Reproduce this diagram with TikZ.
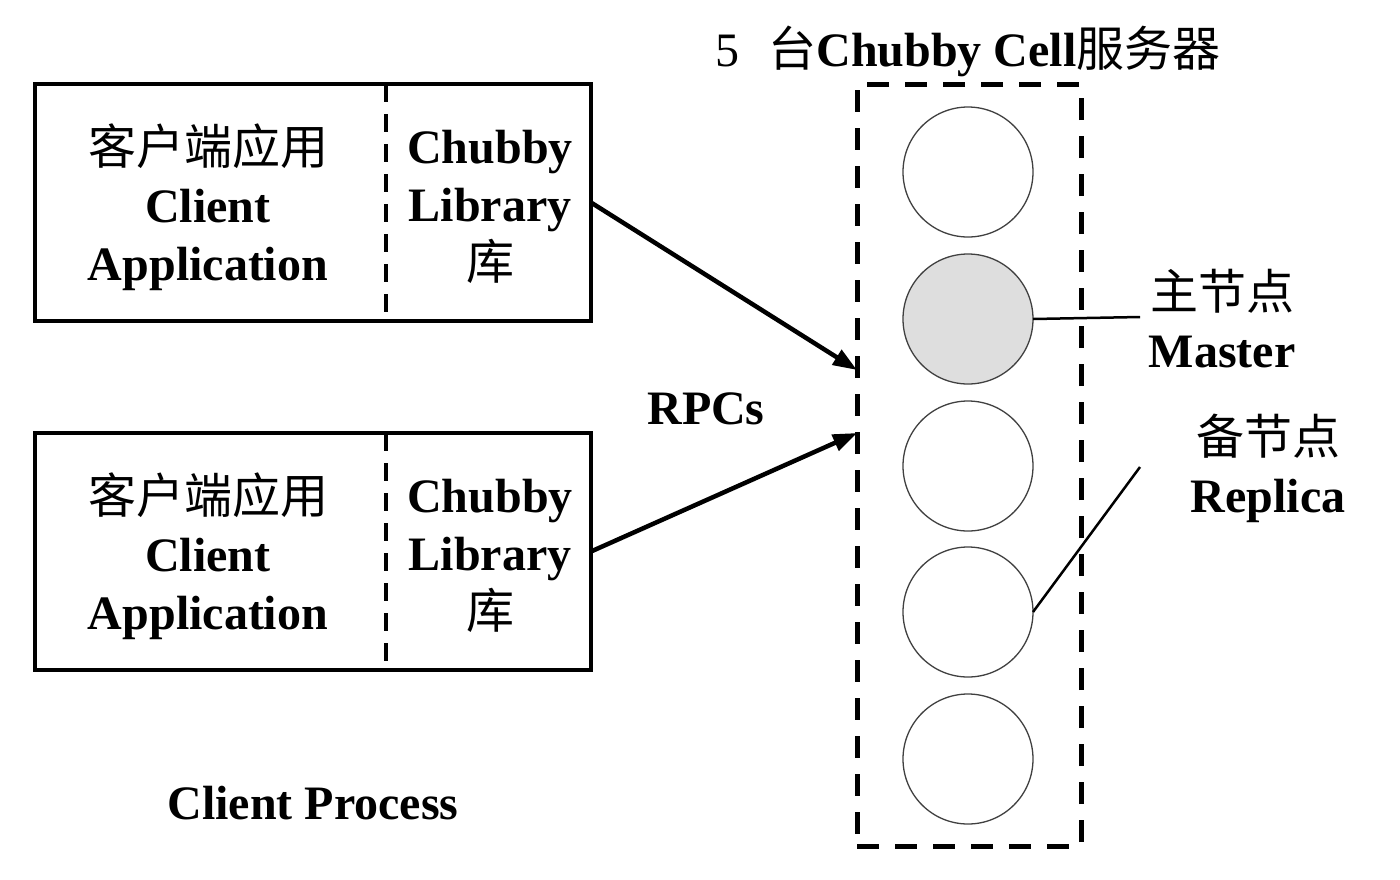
\documentclass[tikz,border=0pt]{standalone}
\usepackage{fontspec}
\setmainfont{Liberation Serif}
\newfontfamily\cjk{Noto Sans CJK SC}
\usetikzlibrary{arrows.meta}
\begin{document}
\begin{tikzpicture}[x=1pt,y=-1pt,
  every node/.style={inner sep=0pt, outer sep=0pt},
  txt/.style={font=\fontsize{48}{58}\selectfont\bfseries, align=center},
  procbox/.style={draw, line width=4pt, minimum width=556pt, minimum height=237pt},
  divider/.style={line width=4pt, dash pattern=on 18pt off 12pt},
  cellbox/.style={draw, line width=5pt, dash pattern=on 22pt off 16pt, minimum width=224pt, minimum height=762pt},
  srv/.style={circle, draw=black!75, line width=1.3pt, minimum size=130pt, fill=white},
  master/.style={srv, fill=black!13},
  conn/.style={line width=4.5pt, -{Triangle[length=24pt,width=17pt]}},
  lead/.style={line width=2.5pt}]
\useasboundingbox (0,0) rectangle (1400,879);

% title
\node[txt] (title) at (968,51) {{\mdseries 5}\hspace{0.6em}{\mdseries\cjk 台}Chubby Cell{\mdseries\cjk 服务器}};

% client process boxes
\node[procbox] (b1) at (313,202.5) {};
\draw[divider] ([xshift=351pt]b1.north west) -- ([xshift=351pt]b1.south west);
\node[txt] (app1) at (208,207) {{\mdseries\cjk 客户端应用}\\Client\\Application};
\node[txt] (lib1) at (490,207) {Chubby\\Library\\{\mdseries\cjk 库}};

\node[procbox] (b2) at (313,551.5) {};
\draw[divider] ([xshift=351pt]b2.north west) -- ([xshift=351pt]b2.south west);
\node[txt] (app2) at (208,556) {{\mdseries\cjk 客户端应用}\\Client\\Application};
\node[txt] (lib2) at (490,556) {Chubby\\Library\\{\mdseries\cjk 库}};

\node[txt] (cp) at (313,803) {Client Process};

% chubby cell
\node[cellbox] (cell) at (969,465) {};
\node[srv] (s1) at (968,172) {};
\node[master] (s2) at (968,319) {};
\node[srv] (s3) at (968,466) {};
\node[srv] (s4) at (968,612) {};
\node[srv] (s5) at (968,759) {};

% RPC arrows
\coordinate (t1) at (857,370);
\coordinate (t2) at (857,433);
\draw[conn] (b1.east) -- (t1);
\draw[conn] (b2.east) -- (t2);
\node[txt] (rpc) at (706,409) {RPCs};

% labels
\node[txt] (mlab) at (1222,319) {{\mdseries\cjk 主节点}\\Master};
\node[txt] (rlab) at (1268,468) {{\mdseries\cjk 备节点}\\Replica};
\coordinate (mend) at (1140,317);
\coordinate (rend) at (1140,467);
\draw[lead] (s2.east) -- (mend);
\draw[lead] (s4.east) -- (rend);
\end{tikzpicture}
\end{document}
